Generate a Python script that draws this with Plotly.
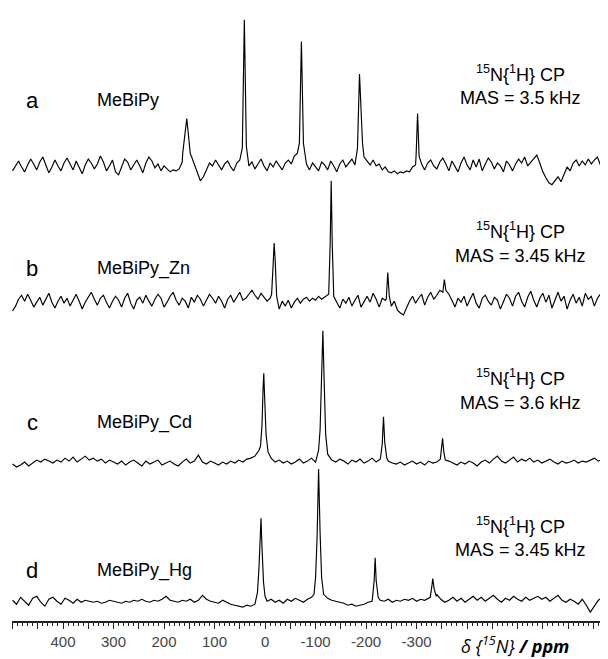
import plotly.graph_objects as go

# ---------------- data ----------------
PPM0 = 500        # ppm of the first baseline sample (left edge)

step_a = 6
noise_a = [-3, 2, 7, 1, -4, 3, 9, 4, -2, 6,
           11, 3, -5, 1, 8, 2, -3, 5, 10, 4,
           -2, 7, 1, -6, 3, 9, 5, -1, 4, 12,
           6, -3, 2, 8, -4, -7, 1, 9, 6, -2,
           3, 8, 2, -5, 5, 11, 7, 0, 4, -3,
           2, -1, -4, -2, -3, -1, 6, 0, 0, 12,
           4, -6, -13, -9, -2, 5, 2, 8, 3, -2,
           4, 7, 1, -3, 5, 8, 0, 0, 2, 6,
           -1, 4, 9, 2, -3, 5, 1, 7, 3, -2,
           5, 8, 4, 12, 15, 0, 0, 4, -2, 5,
           1, -3, 6, 3, -2, 7, 2, -4, 4, 8,
           1, 5, 9, 3, 0, 0, 11, 7, 3, 8,
           2, 4, -2, 1, -4, -5, -3, -6, -4, -5,
           -3, -4, 1, 3, 0, 4, -2, 5, 8, 2,
           -1, 6, 10, 4, -3, 7, 2, -4, 5, 11,
           3, -2, 8, 1, 9, -3, 4, 10, 6, -1,
           5, 2, -4, 7, 3, -3, 4, 9, 5, 11,
           2, 6, 10, 13, 5, -4, -10, -15, -17, -13,
           -9, -14, -6, 1, -3, 5, 8, 2, 7, 3,
           9, 4, 8, 11, 3, 7, 5]
step_b = 6
noise_b = [-7, -2, 5, 9, 3, 10, 4, -3, 2, 7,
           -1, 5, 11, 2, -4, 3, 8, 1, 6, -2,
           4, 10, 3, -5, 2, 7, 12, 5, -1, 6,
           9, 2, -4, 3, 8, 4, -3, 6, 11, 1,
           -5, 4, 7, 1, 9, 3, -2, 5, 10, 6,
           -3, 2, 8, 12, 4, -1, 6, 3, -4, 7,
           2, 9, 5, -2, 4, 10, 6, 1, 8, 3,
           -4, 5, 9, 2, 7, 12, 4, 6, 10, 14,
           9, 5, 11, 7, 3, 6, 0, 0, -5, 3,
           -2, 4, -4, 2, 6, 1, 5, 7, 3, 6,
           4, 8, 5, 7, 9, 0, 0, 2, -4, 5,
           1, 7, -2, 4, 9, -3, 3, 8, 2, 11,
           5, -3, 6, 4, 0, -2, 3, -6, -9, -11,
           -4, 3, 8, 1, 6, 10, -1, 7, 12, 5,
           9, 14, 0, 0, 10, 4, -3, 6, 2, 8,
           -2, 5, 11, 1, -4, 6, 9, 3, -1, 7,
           4, -5, 3, 10, 6, -2, 8, 12, 3, -3,
           7, 13, 4, -3, 6, 11, 2, 9, -4, 5,
           12, 3, 8, -5, 4, 10, 1, 7, -2, 11,
           5, 8, -2, 6, 10, 3, 7]
step_c = 8
noise_c = [0, -3, -1, 2, -2, 1, 4, 2, 5, 3,
           1, 4, 2, 6, 3, 7, 2, 5, 8, 4,
           6, 3, 5, 1, 4, 2, 0, 3, -1, 2,
           4, 1, -2, 3, 0, 2, 4, -1, 1, 3,
           0, -2, 2, 5, 1, 3, 9, 2, 0, 3,
           1, -1, 2, 0, 3, 1, 4, 2, 5, 6,
           8, 14, 0, 0, 6, 2, 4, 1, 3, 0,
           2, 5, 1, 3, 6, 2, 4, 9, 0, 4,
           2, 5, 3, 0, 4, 2, 5, 1, 3, 6,
           2, 5, 0, 3, 1, 0, 2, -1, 1, 3,
           0, 2, -1, 3, 1, 2, 4, 0, 3, 1,
           -1, 2, 0, 3, 1, -2, 2, 4, 1, 5,
           8, 3, 1, 4, 7, 2, 5, 3, 6, 2,
           4, 1, 3, 5, 2, 0, 3, 1, 2, 4,
           1, 3, 2, 4, 6, 3, 5, 7]
step_d = 8
noise_d = [2, -2, 5, 1, -3, 4, 6, 0, -4, 3,
           5, 1, -2, 4, 2, -1, 3, 0, 2, 1,
           0, 1, -1, 0, 2, 1, 0, -1, 1, 0,
           2, 1, 3, 1, 0, 2, 1, 3, 6, 2,
           1, 0, 2, 1, 3, 0, 2, 7, 3, 1,
           0, -1, 2, 0, -2, -3, -4, -5, -3, -4,
           -2, 0, 0, 1, 3, 0, 2, -1, 3, 1,
           4, 2, 0, 3, 5, 0, 0, 0, 4, 2,
           1, 0, -1, -3, -2, -4, -3, -2, 0, 1,
           0, 2, 1, 3, 0, 2, 1, 3, 2, 4,
           1, 3, 2, 4, 0, 8, 3, 0, 2, 5,
           1, 4, 0, 3, 6, 2, 5, 1, 4, 7,
           3, 0, 4, 2, 6, 3, 1, 5, 2, 4,
           6, 3, 5, 1, 4, 7, 2, 0, 3, 1,
           -2, 3, -3, -10, -4, 2, 5, 3]

# resonance profiles (ppm, intensity)
peak_ppm_a = [[163, 159, 155, 151, 148], [45, 41, 37], [-68, -72, -76],
              [-183, -187, -190, -193], [-299, -302, -305]]
peak_int_a = [[15, 35, 50, 30, 14], [20, 150, 22], [25, 128, 25],
              [20, 95, 60, 25], [12, 55, 12]]
peak_ppm_b = [[-13, -16, -18, -20, -23], [-126, -129, -131, -133, -136],
              [-240, -243, -246], [-352, -355, -358]]
peak_int_b = [[10, 40, 62, 45, 8], [10, 62, 125, 62, 8], [5, 32, 8], [12, 25, 14]]
peak_ppm_c = [[9, 6, 4, 2.5, 1, -2, -6], [-106, -109, -112, -114.5, -117, -120, -124],
              [-229, -232, -234.5, -237, -241], [-347, -349, -351.5, -354, -357]]
peak_int_c = [[18, 40, 75, 92, 70, 30, 12], [14, 35, 80, 135, 85, 30, 10],
              [8, 20, 48, 22, 6], [5, 14, 26, 12, 4]]
peak_ppm_d = [[15, 12, 10, 8, 6, 3, 0], [-97, -100, -103, -106, -109, -112, -116],
              [-213, -216, -218, -220, -224], [-327, -330, -332, -335, -339]]
peak_int_d = [[10, 35, 60, 85, 55, 20, 6], [8, 25, 65, 135, 70, 25, 8],
              [6, 22, 45, 22, 5], [5, 15, 24, 13, 6]]

letters = ["a", "b", "c", "d"]
samples = ["MeBiPy", "MeBiPy_Zn", "MeBiPy_Cd", "MeBiPy_Hg"]
mas = ["MAS = 3.5 kHz", "MAS = 3.45 kHz", "MAS = 3.6 kHz", "MAS = 3.45 kHz"]
tick_labels = {400: "400", 300: "300", 200: "200", 100: "100", 0: "0",
               -100: "-100", -200: "-200", -300: "-300"}

# ---------------- layout constants (page pixels) ----------------
PAGE_W, PAGE_H = 608, 659
BODY = 8                      # default body margin of the html page
W, H = PAGE_W - BODY, PAGE_H - BODY
AX_PX = 621                   # page row of the x-axis line
LEFT_PX = 12                  # page column where the axis starts
X_RANGE = [501, -679]
base_px = [162, 300, 462, 602]     # baseline row of each spectrum
label_px = [100, 268, 423, 570]
mas_px = [98, 256, 403, 550]

PLOT_H = AX_PX - BODY
PLOT_L = LEFT_PX - BODY


def build(noise, step, pk_ppm, pk_int):
    grid = [(PPM0 - step * i, v) for i, v in enumerate(noise)]
    spans = [(min(p), max(p)) for p in pk_ppm]
    pts = [(x, v) for x, v in grid if not any(lo <= x <= hi for lo, hi in spans)]
    for p, q in zip(pk_ppm, pk_int):
        pts += list(zip(p, q))
    pts.sort(key=lambda t: -t[0])
    return [t[0] for t in pts], [t[1] for t in pts]


spectra = [(noise_a, step_a, peak_ppm_a, peak_int_a), (noise_b, step_b, peak_ppm_b, peak_int_b),
           (noise_c, step_c, peak_ppm_c, peak_int_c), (noise_d, step_d, peak_ppm_d, peak_int_d)]

fig = go.Figure()
for k, (n, st, pp, pi) in enumerate(spectra):
    xs, ys = build(n, st, pp, pi)
    off = AX_PX - base_px[k]
    fig.add_trace(go.Scatter(x=xs, y=[off + v for v in ys], mode="lines",
                             line=dict(color="black", width=1.15),
                             showlegend=False, hoverinfo="skip"))

FONT = "Liberation Sans, Arial, sans-serif"


def px_x(px):
    return (px - LEFT_PX) / (PAGE_W - LEFT_PX)


def px_y(py):
    return (AX_PX - py) / PLOT_H


ann = []
for k in range(4):
    ann.append(dict(x=px_x(32), y=px_y(label_px[k]), xref="paper", yref="paper",
                    text=letters[k], showarrow=False, xanchor="center", yanchor="middle",
                    font=dict(family=FONT, size=22, color="black")))
    ann.append(dict(x=px_x(95), y=px_y(label_px[k]), xref="paper", yref="paper",
                    text=samples[k], showarrow=False, xanchor="left", yanchor="middle",
                    font=dict(family=FONT, size=18, color="black")))
    ann.append(dict(x=px_x(520), y=px_y(mas_px[k] - 25), xref="paper", yref="paper",
                    text="<sup>15</sup>N{<sup>1</sup>H} CP", showarrow=False,
                    xanchor="center", yanchor="middle",
                    font=dict(family=FONT, size=18, color="black")))
    ann.append(dict(x=px_x(520), y=px_y(mas_px[k]), xref="paper", yref="paper",
                    text=mas[k], showarrow=False, xanchor="center", yanchor="middle",
                    font=dict(family=FONT, size=18, color="black")))

ann.append(dict(x=px_x(515), y=px_y(645), xref="paper", yref="paper",
                text="<i>δ {<sup>15</sup>N}</i> <b><i>/ ppm</i></b>", showarrow=False,
                xanchor="center", yanchor="middle",
                font=dict(family="Open Sans, Liberation Sans, Arial", size=18, color="black")))

tickvals = list(range(500, -680, -50))
ticktext = [tick_labels.get(v, "") for v in tickvals]

fig.update_layout(
    width=W, height=H,
    margin=dict(l=PLOT_L, r=0, t=0, b=H - PLOT_H, pad=0),
    paper_bgcolor="white", plot_bgcolor="white",
    annotations=ann,
    xaxis=dict(range=X_RANGE, showgrid=False, zeroline=False,
               showline=True, linecolor="#222", linewidth=1.5,
               ticks="outside", tickmode="array", tickvals=tickvals, ticktext=ticktext,
               ticklen=6, tickwidth=1, tickcolor="#222",
               tickfont=dict(family=FONT, size=15, color="#444"),
               minor=dict(tickmode="linear", tick0=0, dtick=10, ticks="outside",
                          ticklen=3.5, tickwidth=1, tickcolor="#222")),
    yaxis=dict(visible=False, range=[0, AX_PX], showgrid=False, zeroline=False),
)

fig.write_html("out.html")
